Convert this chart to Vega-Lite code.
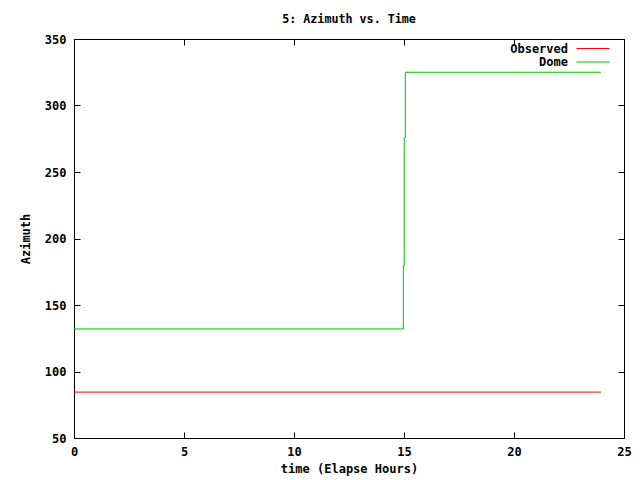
{
  "$schema": "https://vega.github.io/schema/vega-lite/v6.json",
  "width": 550,
  "height": 399,
  "autosize": {"type": "none"},
  "padding": {"left": 74, "top": 39, "right": 16, "bottom": 42},
  "background": "white",
  "title": {"text": "5: Azimuth vs. Time", "font": "DejaVu Sans Mono", "fontSize": 11.7, "fontWeight": "bold", "offset": 7, "color": "black"},
  "data": {"values": [
    {"series": "Observed", "i": 0, "t": 0, "az": 84.5},
    {"series": "Observed", "i": 1, "t": 23.95, "az": 84.5},
    {"series": "Dome", "i": 0, "t": 0, "az": 132},
    {"series": "Dome", "i": 1, "t": 14.97, "az": 132},
    {"series": "Dome", "i": 2, "t": 14.97, "az": 180},
    {"series": "Dome", "i": 3, "t": 15.01, "az": 180},
    {"series": "Dome", "i": 4, "t": 15.01, "az": 276},
    {"series": "Dome", "i": 5, "t": 15.06, "az": 276},
    {"series": "Dome", "i": 6, "t": 15.06, "az": 325},
    {"series": "Dome", "i": 7, "t": 23.95, "az": 325}
  ]},
  "layer": [
    {
      "mark": {"type": "line", "strokeWidth": 1},
      "encoding": {
        "x": {"field": "t", "type": "quantitative", "scale": {"domain": [0, 25], "nice": false},
              "axis": {"title": "time (Elapse Hours)", "values": [0, 5, 10, 15, 20, 25], "tickSize": -6, "labelPadding": 14, "titlePadding": 6, "labelFlush": false}},
        "y": {"field": "az", "type": "quantitative", "scale": {"domain": [50, 350], "nice": false, "zero": false},
              "axis": {"title": "Azimuth", "values": [50, 100, 150, 200, 250, 300, 350], "tickSize": -6, "labelPadding": 14, "titlePadding": 12}},
        "color": {"field": "series", "type": "nominal", "sort": ["Observed", "Dome"],
                  "scale": {"domain": ["Observed", "Dome"], "range": ["#ff0000", "#00c000"]},
                  "legend": {"title": null, "orient": "none", "legendX": 513, "legendY": 3.5, "symbolType": "M-3,0H3", "symbolSize": 121, "symbolStrokeWidth": 1, "symbolFillColor": "transparent", "labelAlign": "right", "labelOffset": -31, "rowPadding": 1.5}},
        "order": {"field": "i", "type": "quantitative"}
      }
    },
    {
      "mark": {"type": "line", "opacity": 0},
      "encoding": {
        "x": {"field": "t", "type": "quantitative", "axis": {"orient": "top", "labels": false, "title": null, "values": [0, 5, 10, 15, 20, 25], "tickSize": -6}},
        "y": {"field": "az", "type": "quantitative", "axis": {"orient": "right", "labels": false, "title": null, "values": [50, 100, 150, 200, 250, 300, 350], "tickSize": -6}},
        "detail": {"field": "series"}
      }
    }
  ],
  "resolve": {"axis": {"x": "independent", "y": "independent"}},
  "config": {
    "view": {"stroke": "black", "strokeWidth": 1},
    "axis": {"grid": false, "domainColor": "black", "tickColor": "black", "labelFont": "DejaVu Sans Mono", "labelFontSize": 12, "labelFontWeight": "bold", "labelColor": "black", "titleFont": "DejaVu Sans Mono", "titleFontSize": 12, "titleFontWeight": "bold", "titleColor": "black"},
    "legend": {"labelFont": "DejaVu Sans Mono", "labelFontSize": 12, "labelFontWeight": "bold", "labelColor": "black"}
  }
}
